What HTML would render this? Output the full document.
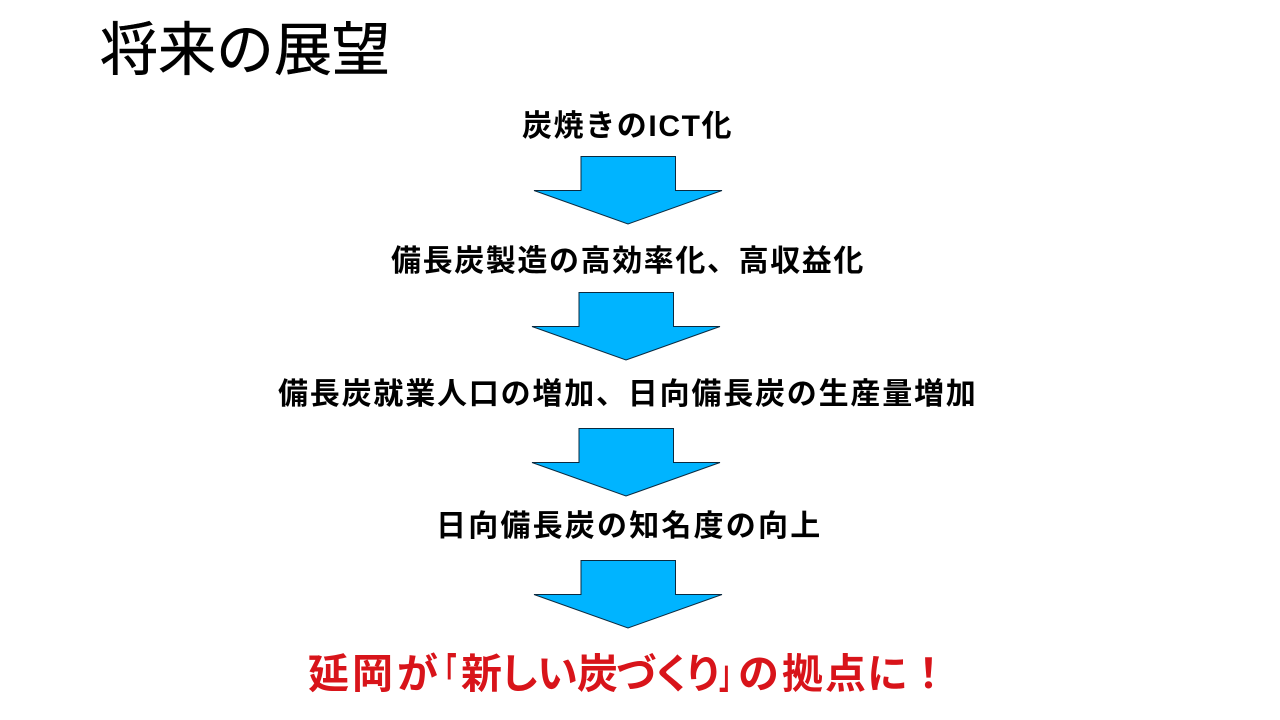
<!DOCTYPE html>
<html lang="ja"><head><meta charset="utf-8"><style>
html,body{margin:0;padding:0;width:1280px;height:720px;background:#fff;overflow:hidden}
.t{position:absolute;white-space:nowrap;font-family:"Liberation Sans","Noto Sans CJK JP",sans-serif;line-height:1;transform-origin:left top}
.b{font-weight:700;color:#000;font-size:30px}
.r{font-size:41px;font-weight:700;color:#d8141a;top:654px}
svg{position:absolute;left:0;top:0}
</style></head><body>
<div class="t" style="left:100px;top:22px;font-size:58px;color:#000;font-weight:400;-webkit-text-stroke:.5px #000">将来の展望</div>
<div class="t b" style="left:522px;top:112px;letter-spacing:1.6px">炭焼きのICT化</div>
<div class="t b" style="left:391px;top:247px;letter-spacing:1.6px">備長炭製造の高効率化、高収益化</div>
<div class="t b" style="left:278px;top:380px;letter-spacing:1.8px">備長炭就業人口の増加、日向備長炭の生産量増加</div>
<div class="t b" style="left:436px;top:512px;letter-spacing:2.2px">日向備長炭の知名度の向上</div>
<div class="t r" style="left:308px">延</div>
<div class="t r" style="left:352px">岡</div>
<div class="t r" style="left:397px">が</div>
<div class="t r" style="left:432px;transform:scaleX(.6)">「</div>
<div class="t r" style="left:461px">新</div>
<div class="t r" style="left:499px">し</div>
<div class="t r" style="left:537px">い</div>
<div class="t r" style="left:577px">炭</div>
<div class="t r" style="left:616px">づ</div>
<div class="t r" style="left:652px">く</div>
<div class="t r" style="left:683px">り</div>
<div class="t r" style="left:719px;transform:scaleX(.6)">」</div>
<div class="t r" style="left:738px">の</div>
<div class="t r" style="left:782px">拠</div>
<div class="t r" style="left:825px">点</div>
<div class="t r" style="left:867px">に</div>
<div class="t r" style="left:908px">！</div>
<svg width="1280" height="720" fill="#00b4ff" stroke="#0a2a40" stroke-width="1">
<polygon points="581,156.500 675.500,156.500 675.500,190.500 722,190.500 628,224 534,190.500 581,190.500"/>
<polygon points="579,292.500 673.500,292.500 673.500,326.500 720,326.500 626,360 532,326.500 579,326.500"/>
<polygon points="579,428.500 673.500,428.500 673.500,462.500 720,462.500 626,496 532,462.500 579,462.500"/>
<polygon points="581,560.500 675.500,560.500 675.500,594.500 722,594.500 628,628 534,594.500 581,594.500"/>
</svg>
</body></html>
